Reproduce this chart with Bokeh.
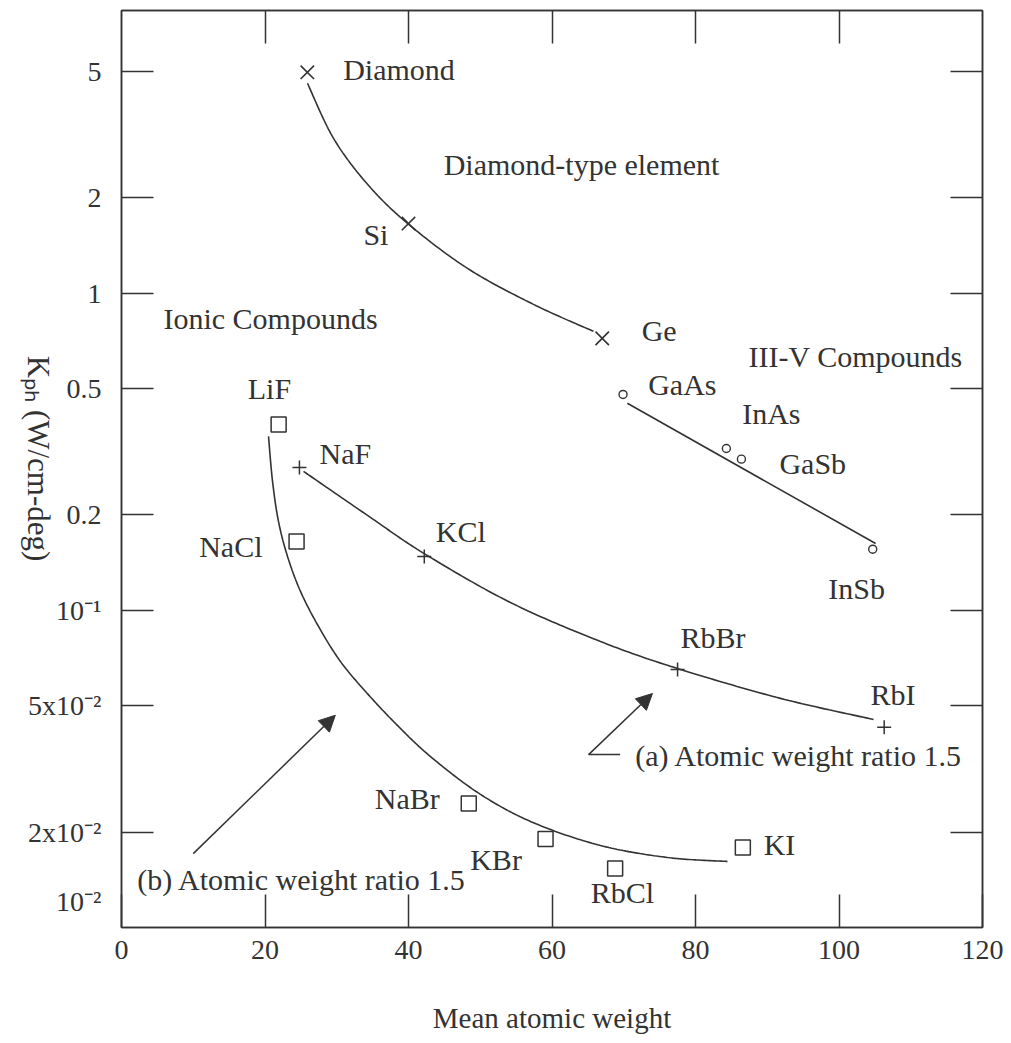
import numpy as np
from bokeh.plotting import figure
from bokeh.models import (LinearAxis, LogAxis, FixedTicker, Range1d, Label,
                          Arrow, NormalHead, CustomJSTickFormatter)
from bokeh.embed import file_html
from bokeh.resources import INLINE

FONT = "Liberation Serif"
INK = "#333333"

# ---------------- data ----------------
diamond_names = ["Diamond", "Si", "Ge"]
diamond_x = [25.9, 40.0, 67.0]
diamond_k = [4.98, 1.66, 0.721]

iiiv_names = ["GaAs", "InAs", "GaSb", "InSb"]
iiiv_x = [69.9, 84.3, 86.4, 104.7]
iiiv_k = [0.480, 0.324, 0.300, 0.156]

ionic_a_names = ["NaF", "KCl", "RbBr", "RbI"]
ionic_a_x = [24.8, 42.2, 77.5, 106.3]
ionic_a_k = [0.2825, 0.148, 0.0651, 0.0428]

ionic_b_names = ["LiF", "NaCl", "NaBr", "KBr", "RbCl", "KI"]
ionic_b_x = [21.9, 24.4, 48.4, 59.1, 68.8, 86.6]
ionic_b_k = [0.386, 0.165, 0.0246, 0.0190, 0.01535, 0.01788]

# trend curves as drawn in the figure
curve_diamond_x = [25.92, 29.55, 34.29, 39.86, 48.22, 57.42, 65.78]
curve_diamond_k = [4.598, 3.083, 2.208, 1.663, 1.199, 0.923, 0.759]
line_iiiv_x = [70.5, 105.1]
line_iiiv_k = [0.450, 0.1626]
curve_a_x = [25.37, 34.29, 42.37, 54.22, 66.76, 77.49, 91.85, 104.81]
curve_a_k = [0.2745, 0.1994, 0.1502, 0.1059, 0.0798, 0.0656, 0.0528, 0.0453]
curve_b_x = [20.49, 21.05, 21.88, 23.14, 24.95, 27.46, 30.52, 34.01, 38.19,
             43.07, 50.03, 57.42, 66.76, 76.10, 84.46]
curve_b_k = [0.3539, 0.2552, 0.1909, 0.1480, 0.1148, 0.0890, 0.0690, 0.0555,
             0.0440, 0.0346, 0.0263, 0.0214, 0.01814, 0.01663, 0.01615]

x_ticks = [0, 20, 40, 60, 80, 100, 120]
y_ticks = [0.02, 0.05, 0.1, 0.2, 0.5, 1, 2, 5]
y_label_vals = [0.0121, 0.02, 0.05, 0.1, 0.2, 0.5, 1, 2, 5]
y_label_text = ["10\u207b\u00b2", "2x10\u207b\u00b2", "5x10\u207b\u00b2",
                "10\u207b\u00b9", "0.2", "0.5", "1", "2", "5"]
y_title = "K\u209a\u2095 (W/cm-deg)"
y_title_end = 0.1428   # where the vertical title ends (bottom end)

X0, X1 = 0, 120
Y0, Y1 = 0.01, 7.8


def smooth(xs, ks, n=24):
    """Catmull-Rom smoothing of a drawn curve (in x / log k space)."""
    P = np.column_stack([np.asarray(xs, float) * 7.175,
                         -np.log10(np.asarray(ks, float)) * 317.0])
    pts = np.vstack([P[0], P, P[-1]])
    out = []
    for i in range(1, len(pts) - 2):
        p0, p1, p2, p3 = pts[i - 1], pts[i], pts[i + 1], pts[i + 2]
        for t in np.linspace(0, 1, n, endpoint=False):
            t2, t3 = t * t, t * t * t
            out.append(0.5 * (2 * p1 + (-p0 + p2) * t
                              + (2 * p0 - 5 * p1 + 4 * p2 - p3) * t2
                              + (-p0 + 3 * p1 - 3 * p2 + p3) * t3))
    out.append(P[-1])
    out = np.array(out)
    return out[:, 0] / 7.175, 10 ** (-out[:, 1] / 317.0)


p = figure(width=1011, height=1043, x_range=Range1d(X0, X1),
           y_range=Range1d(Y0, Y1), y_axis_type="log",
           output_backend="svg", toolbar_location=None,
           min_border_left=121, min_border_right=29,
           min_border_top=10, min_border_bottom=116,
           background_fill_color="white", border_fill_color="white")
p.grid.visible = False
p.outline_line_color = INK
p.outline_line_width = 1.5

blank = CustomJSTickFormatter(code="return ''")

# bottom axis
xa = p.xaxis[0]
xa.ticker = FixedTicker(ticks=x_ticks)
xa.major_tick_in = 33
xa.major_tick_out = 0
xa.minor_tick_line_color = None
xa.axis_line_color = INK
xa.axis_line_width = 1.5
xa.major_tick_line_color = INK
xa.major_tick_line_width = 1.5
xa.major_label_text_font = FONT
xa.major_label_text_font_size = "28px"
xa.major_label_text_color = INK
xa.major_label_standoff = 13
xa.axis_label = "Mean atomic weight"
xa.axis_label_text_font = FONT
xa.axis_label_text_font_size = "29px"
xa.axis_label_text_font_style = "normal"
xa.axis_label_text_color = INK
xa.axis_label_standoff = 40

# left axis: tick marks (as minor ticks) and labels (majors without marks)
ya = p.yaxis[0]
ya.ticker = FixedTicker(ticks=y_label_vals, minor_ticks=y_ticks)
ya.formatter = CustomJSTickFormatter(
    args=dict(vals=y_label_vals, labs=y_label_text),
    code="""
const i = vals.findIndex(v => Math.abs(v - tick) < 1e-6 * Math.max(1, v));
return i >= 0 ? labs[i] : '';
""")
ya.major_tick_line_color = None
ya.major_tick_in = 0
ya.major_tick_out = 0
ya.minor_tick_in = 32
ya.minor_tick_out = 0
ya.minor_tick_line_color = INK
ya.minor_tick_line_width = 1.5
ya.axis_line_color = INK
ya.axis_line_width = 1.5
ya.major_label_text_font = FONT
ya.major_label_text_font_size = "28px"
ya.major_label_text_color = INK
ya.major_label_standoff = 20

# left: rotated title drawn as the single label of an extra axis
ttl = LogAxis(ticker=FixedTicker(ticks=[y_title_end]),
              formatter=CustomJSTickFormatter(args=dict(t=y_title),
                                              code="return t"),
              major_tick_in=0, major_tick_out=0,
              major_tick_line_color=None, minor_tick_line_color=None,
              axis_line_color=None,
              major_label_text_font=FONT, major_label_text_font_size="31px",
              major_label_text_color=INK, major_label_standoff=-13,
              major_label_orientation=-np.pi / 2)
p.add_layout(ttl, "left")

top = LinearAxis(ticker=FixedTicker(ticks=x_ticks[1:-1]), formatter=blank,
                 major_tick_in=33, major_tick_out=0,
                 minor_tick_line_color=None,
                 axis_line_color=INK, axis_line_width=1.5,
                 major_tick_line_color=INK, major_tick_line_width=1.5,
                 major_label_text_font_size="1px", major_label_standoff=0)
p.add_layout(top, "above")
right = LogAxis(ticker=FixedTicker(ticks=y_ticks), formatter=blank,
                major_tick_in=32, major_tick_out=0,
                minor_tick_line_color=None,
                axis_line_color=INK, axis_line_width=1.5,
                major_tick_line_color=INK, major_tick_line_width=1.5,
                major_label_text_font_size="1px", major_label_standoff=0)
p.add_layout(right, "right")

# ---------------- curves ----------------
for cx, ck in [(curve_diamond_x, curve_diamond_k), (curve_a_x, curve_a_k),
               (curve_b_x, curve_b_k)]:
    sx, sk = smooth(cx, ck)
    p.line(sx, sk, line_color=INK, line_width=1.6)
p.line(line_iiiv_x, line_iiiv_k, line_color=INK, line_width=1.6)

# ---------------- markers ----------------
p.scatter(diamond_x, diamond_k, marker="x", size=19, line_color=INK,
          line_width=1.6)
p.scatter(iiiv_x, iiiv_k, marker="circle", size=8, line_color=INK,
          fill_color="white", line_width=1.4)
p.scatter(ionic_a_x, ionic_a_k, marker="cross", size=14, line_color=INK,
          line_width=1.5)
p.scatter(ionic_b_x, ionic_b_k, marker="square", size=15, line_color=INK,
          fill_color="white", line_width=1.5)


def txt(text, x, y, align="left", size="30px"):
    p.add_layout(Label(x=x, y=y, text=text, text_font=FONT,
                       text_font_size=size, text_color=INK,
                       text_align=align, text_baseline="middle"))


# point and group labels
label_pos = [
    ("Diamond", 30.9, 5.1, "left"),
    ("Diamond-type element", 44.9, 2.55, "left"),
    ("Si", 37.2, 1.535, "right"),
    ("Ge", 72.5, 0.765, "left"),
    ("Ionic Compounds", 5.85, 0.834, "left"),
    ("III-V Compounds", 87.4, 0.633, "left"),
    ("GaAs", 73.4, 0.516, "left"),
    ("InAs", 86.5, 0.418, "left"),
    ("GaSb", 91.7, 0.291, "left"),
    ("InSb", 98.5, 0.1173, "left"),
    ("LiF", 17.6, 0.501, "left"),
    ("NaF", 27.6, 0.313, "left"),
    ("NaCl", 19.65, 0.159, "right"),
    ("KCl", 43.8, 0.1775, "left"),
    ("RbBr", 77.9, 0.0822, "left"),
    ("RbI", 104.4, 0.0543, "left"),
    ("(a) Atomic weight ratio 1.5", 71.6, 0.0349, "left"),
    ("NaBr", 35.3, 0.0255, "left"),
    ("KBr", 48.6, 0.01639, "left"),
    ("RbCl", 65.4, 0.01289, "left"),
    ("KI", 89.5, 0.01828, "left"),
    ("(b) Atomic weight ratio 1.5", 2.2, 0.01417, "left"),
]
for t, lx, ly, al in label_pos:
    txt(t, lx, ly, al)

# arrows
p.add_layout(Arrow(end=NormalHead(size=16, fill_color=INK, line_color=INK),
                   x_start=10.0, y_start=0.0171, x_end=29.8, y_end=0.0467,
                   line_color=INK, line_width=1.5))
p.line([69.5, 65.1], [0.0351, 0.0351], line_color=INK, line_width=1.5)
p.add_layout(Arrow(end=NormalHead(size=16, fill_color=INK, line_color=INK),
                   x_start=65.1, y_start=0.0351, x_end=74.0, y_end=0.0547,
                   line_color=INK, line_width=1.5))

open("out.html", "w").write(file_html(p, INLINE))
